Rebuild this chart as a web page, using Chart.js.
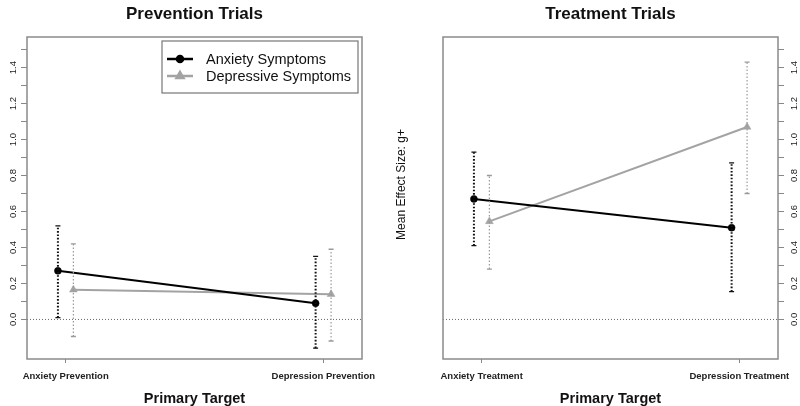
<!DOCTYPE html>
<html>
<head>
<meta charset="utf-8">
<script src="https://cdn.jsdelivr.net/npm/chart.js@4.4.1/dist/chart.umd.min.js"></script>
<style>
body { margin: 0; background: #fff; }
#wrap { position: relative; width: 800px; height: 406px; overflow: hidden; }
canvas { position: absolute; top: 0; }
#left { left: 0; }
#right { left: 390px; }
</style>
</head>
<body>
<div id="wrap">
  <canvas id="left" width="400" height="406"></canvas>
  <canvas id="right" width="410" height="406"></canvas>
</div>
<script>
// series + categories
var seriesNames = ['Anxiety Symptoms', 'Depressive Symptoms'];
var preventionCats = ['Anxiety Prevention', 'Depression Prevention'];
var treatmentCats = ['Anxiety Treatment', 'Depression Treatment'];

// prevention trials (mean g+, lower / upper CI)
var prevAnxMean = [0.27, 0.09];
var prevAnxLow = [0.01, -0.16];
var prevAnxHigh = [0.52, 0.35];
var prevDepMean = [0.165, 0.14];
var prevDepLow = [-0.095, -0.12];
var prevDepHigh = [0.42, 0.39];

// treatment trials
var treatAnxMean = [0.67, 0.51];
var treatAnxLow = [0.41, 0.155];
var treatAnxHigh = [0.93, 0.87];
var treatDepMean = [0.545, 1.07];
var treatDepLow = [0.28, 0.70];
var treatDepHigh = [0.80, 1.43];

// y ticks
var yTicks = [0, 0.1, 0.2, 0.3, 0.4, 0.5, 0.6, 0.7, 0.8, 0.9, 1.0, 1.1, 1.2, 1.3, 1.4, 1.5];
var yTickLabels = ['0.0', '', '0.2', '', '0.4', '', '0.6', '', '0.8', '', '1.0', '', '1.2', '', '1.4', ''];

var BLACK = '#000000';
var GREY = '#a3a3a3';
var shift = [-0.03, 0.03]; // side-by-side dodge of the two series

Chart.defaults.font.family = '"Liberation Sans", Arial, sans-serif';
Chart.defaults.color = '#000';

function toPoints(means, k) {
    return means.map(function (v, i) { return { x: i + 1 + shift[k], y: v }; });
}

// dotted zero line, box frame, error bars
var decor = {
    id: 'decor',
    beforeDatasetsDraw: function (chart) {
        var ctx = chart.ctx, a = chart.chartArea, y0 = chart.scales.y.getPixelForValue(0);
        ctx.save();
        ctx.strokeStyle = '#666';
        ctx.lineWidth = 1;
        ctx.setLineDash([1, 2]);
        ctx.beginPath();
        ctx.moveTo(a.left, y0);
        ctx.lineTo(a.right, y0);
        ctx.stroke();
        ctx.restore();

        ctx.save();
        ctx.strokeStyle = '#8a8a8a';
        ctx.lineWidth = 1.5;
        ctx.strokeRect(a.left, a.top, a.right - a.left, a.bottom - a.top);
        ctx.restore();
    },
    afterDatasetsDraw: function (chart) {
        var ctx = chart.ctx, ys = chart.scales.y;
        chart.data.datasets.forEach(function (ds, di) {
            var meta = chart.getDatasetMeta(di);
            var dark = di === 0;
            meta.data.forEach(function (pt, j) {
                var x = pt.x;
                var yl = ys.getPixelForValue(ds.errLow[j]);
                var yh = ys.getPixelForValue(ds.errHigh[j]);
                ctx.save();
                ctx.strokeStyle = dark ? '#111' : '#9a9a9a';
                ctx.lineWidth = dark ? 2 : 1.2;
                ctx.setLineDash(dark ? [1.6, 1.8] : [1.5, 2]);
                ctx.beginPath();
                ctx.moveTo(x, yl);
                ctx.lineTo(x, yh);
                ctx.stroke();
                ctx.setLineDash([]);
                ctx.lineWidth = 1.3;
                ctx.beginPath();
                ctx.moveTo(x - 2.5, yl); ctx.lineTo(x + 2.5, yl);
                ctx.moveTo(x - 2.5, yh); ctx.lineTo(x + 2.5, yh);
                ctx.stroke();
                ctx.restore();
            });
        });
    }
};

// boxed legend (left panel only)
var boxLegend = {
    id: 'boxLegend',
    afterDraw: function (chart) {
        var ctx = chart.ctx;
        ctx.save();
        ctx.strokeStyle = '#777';
        ctx.lineWidth = 1.2;
        ctx.strokeRect(162, 41, 196, 52);
        ctx.font = '14.5px "Liberation Sans", Arial, sans-serif';
        ctx.textBaseline = 'middle';
        chart.data.datasets.forEach(function (ds, i) {
            var y = 59 + i * 17;
            ctx.strokeStyle = ds.borderColor;
            ctx.fillStyle = ds.borderColor;
            ctx.lineWidth = 2.5;
            ctx.beginPath();
            ctx.moveTo(167, y);
            ctx.lineTo(193, y);
            ctx.stroke();
            Chart.helpers.drawPoint(ctx, { pointStyle: ds.pointStyle, radius: ds.pointRadius - 0.5, rotation: 0, borderWidth: 0.5 }, 180, y);
            ctx.fillStyle = '#111';
            ctx.fillText(ds.label, 206, y + 1);
        });
        ctx.restore();
    }
};

// y axis title for right panel (sits left of its box)
var sideTitle = {
    id: 'sideTitle',
    afterDraw: function (chart) {
        var ctx = chart.ctx;
        ctx.save();
        ctx.translate(12, 184.5);
        ctx.rotate(-Math.PI / 2);
        ctx.font = '12px "Liberation Sans", Arial, sans-serif';
        ctx.fillStyle = '#111';
        ctx.textAlign = 'center';
        ctx.textBaseline = 'middle';
        ctx.fillText('Mean Effect Size: g+', 0, 0);
        ctx.restore();
    }
};

function makeChart(id, title, cats, anxMean, anxLow, anxHigh, depMean, depLow, depHigh, side) {
    var plugins = [decor];
    if (side === 'left') plugins.push(boxLegend); else plugins.push(sideTitle);

    return new Chart(document.getElementById(id), {
        type: 'line',
        data: {
            datasets: [{
                label: seriesNames[0],
                data: toPoints(anxMean, 0),
                errLow: anxLow,
                errHigh: anxHigh,
                borderColor: BLACK,
                backgroundColor: BLACK,
                borderWidth: 2,
                pointStyle: 'circle',
                pointRadius: 3.5,
                pointBorderWidth: 0.5,
                pointBackgroundColor: BLACK,
                pointBorderColor: BLACK,
                tension: 0,
                fill: false
            }, {
                label: seriesNames[1],
                data: toPoints(depMean, 1),
                errLow: depLow,
                errHigh: depHigh,
                borderColor: GREY,
                backgroundColor: GREY,
                borderWidth: 2,
                pointStyle: 'triangle',
                pointRadius: 4.5,
                pointBorderWidth: 0.5,
                pointBackgroundColor: GREY,
                pointBorderColor: GREY,
                tension: 0,
                fill: false
            }]
        },
        options: {
            responsive: false,
            animation: false,
            layout: { padding: side === 'left' ? { left: 0, right: 38, top: 0, bottom: 0 } : { left: 53, right: 0, top: 0, bottom: 0 } },
            plugins: {
                legend: { display: false },
                tooltip: { enabled: false },
                title: {
                    display: true,
                    text: title,
                    fullSize: false,
                    color: '#111',
                    font: { size: 17, weight: 'bold', lineHeight: 1 },
                    padding: { top: 6.2, bottom: 13.8 }
                }
            },
            scales: {
                x: {
                    type: 'linear',
                    min: 0.85,
                    max: 2.15,
                    afterBuildTicks: function (s) { s.ticks = cats.map(function (c, i) { return { value: i + 1 }; }); },
                    afterFit: function (s) { s.height = 47; },
                    ticks: {
                        callback: function (v, i) { return cats[i]; },
                        font: { size: 9.5, weight: 'bold' },
                        color: '#222',
                        padding: 8,
                        maxRotation: 0,
                        autoSkip: false
                    },
                    grid: { drawOnChartArea: false, drawTicks: true, tickLength: 4, color: '#888' },
                    border: { display: false },
                    title: {
                        display: true,
                        text: 'Primary Target',
                        color: '#111',
                        font: { size: 14.5, weight: 'bold', lineHeight: 1 },
                        padding: { top: 0, bottom: 0 }
                    }
                },
                y: {
                    position: side === 'left' ? 'left' : 'right',
                    min: -0.22,
                    max: 1.57,
                    afterBuildTicks: function (s) { s.ticks = yTicks.map(function (v) { return { value: v }; }); },
                    afterFit: function (s) { s.width = side === 'left' ? 27 : 22; },
                    ticks: {
                        callback: function (v, i) { return yTickLabels[i]; },
                        font: { size: 9.5 },
                        color: '#222',
                        minRotation: 90,
                        maxRotation: 90,
                        crossAlign: 'center',
                        padding: side === 'left' ? 1.4 : 3.4,
                        autoSkip: false
                    },
                    grid: { drawOnChartArea: false, drawTicks: true, tickLength: 6, color: '#888' },
                    border: { display: false }
                }
            }
        },
        plugins: plugins
    });
}

makeChart('left', 'Prevention Trials', preventionCats,
    prevAnxMean, prevAnxLow, prevAnxHigh, prevDepMean, prevDepLow, prevDepHigh, 'left');
makeChart('right', 'Treatment Trials', treatmentCats,
    treatAnxMean, treatAnxLow, treatAnxHigh, treatDepMean, treatDepLow, treatDepHigh, 'right');
</script>
</body>
</html>
